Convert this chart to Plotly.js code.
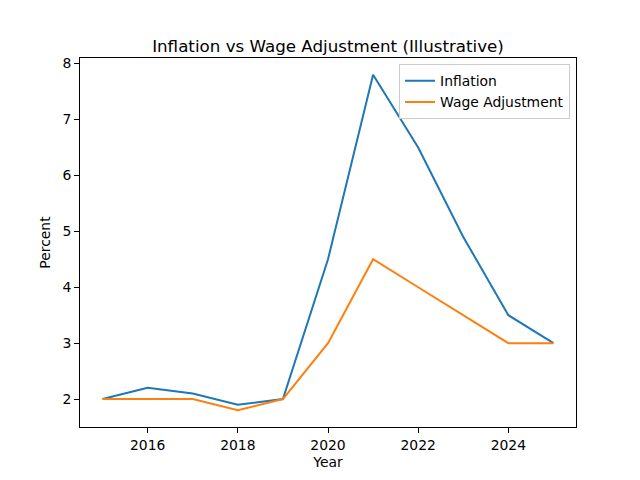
<!DOCTYPE html>
<html>
<head>
<meta charset="utf-8">
<script src="https://cdn.plot.ly/plotly-3.0.1.min.js"></script>
<style>
  html, body { margin: 0; padding: 0; background: white; }
  #chart { width: 640px; height: 480px; }
</style>
</head>
<body>
<div id="chart"></div>
<script>
// values
var years = [2015, 2016, 2017, 2018, 2019, 2020, 2021, 2022, 2023, 2024, 2025]
var inflation = [2.0, 2.2, 2.1, 1.9, 2.0, 4.5, 7.8, 6.5, 4.9, 3.5, 3.0]
var wageAdjustment = [2.0, 2.0, 2.0, 1.8, 2.0, 3.0, 4.5, 4.0, 3.5, 3.0, 3.0]

var xTicks = [2016, 2018, 2020, 2022, 2024]
var yTicks = [2, 3, 4, 5, 6, 7, 8]

var traces = [
    {
        x: years,
        y: inflation,
        name: 'Inflation',
        type: 'scatter',
        mode: 'lines',
        line: { color: '#1f77b4', width: 2 }
    },
    {
        x: years,
        y: wageAdjustment,
        name: 'Wage Adjustment',
        type: 'scatter',
        mode: 'lines',
        line: { color: '#ff7f0e', width: 2 }
    }
]

var axisStyle = {
    showgrid: false,
    zeroline: false,
    showline: true,
    mirror: true,
    linecolor: 'black',
    linewidth: 1,
    ticks: 'outside',
    ticklen: 5,
    tickcolor: 'black',
    tickfont: { size: 13.9, color: 'black' }
}

var layout = {
    width: 640,
    height: 480,
    font: { family: 'DejaVu Sans', color: 'black' },
    paper_bgcolor: 'white',
    plot_bgcolor: 'white',
    margin: { l: 80, r: 64, t: 58, b: 53 },
    title: {
        text: 'Inflation vs Wage Adjustment (Illustrative)',
        font: { size: 16.7, color: 'black' },
        x: 0.5,
        xref: 'paper',
        y: 1,
        yref: 'paper',
        yanchor: 'bottom',
        pad: { b: 6 }
    },
    xaxis: Object.assign({}, axisStyle, {
        range: [2014.5, 2025.5],
        tickvals: xTicks,
        ticktext: xTicks.map(String),
        title: { text: 'Year', font: { size: 13.9 }, standoff: 5 }
    }),
    yaxis: Object.assign({}, axisStyle, {
        range: [1.5, 8.1],
        tickvals: yTicks,
        ticktext: yTicks.map(String),
        title: { text: 'Percent', font: { size: 13.9 }, standoff: 8 }
    }),
    showlegend: true,
    legend: {
        x: 0.988,
        xanchor: 'right',
        y: 0.983,
        yanchor: 'top',
        bgcolor: 'rgba(255,255,255,0.8)',
        bordercolor: '#cccccc',
        borderwidth: 1,
        itemwidth: 30,
        tracegroupgap: 0,
        font: { size: 13.9 }
    }
}

Plotly.newPlot('chart', traces, layout, { displayModeBar: false, staticPlot: true })
</script>
</body>
</html>
